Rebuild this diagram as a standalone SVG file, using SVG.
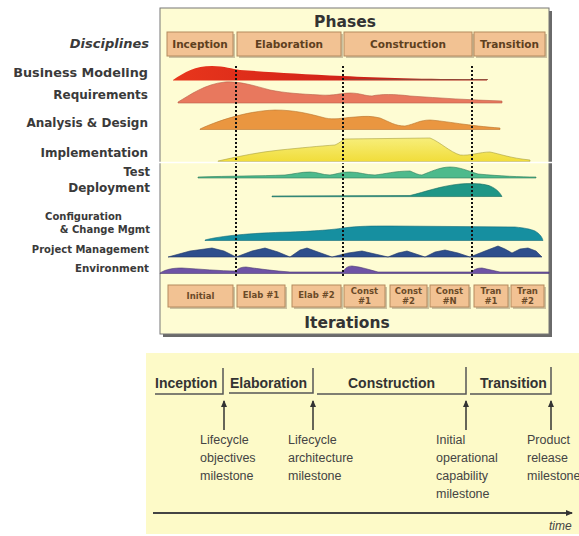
<svg xmlns="http://www.w3.org/2000/svg" width="579" height="536" viewBox="0 0 579 536">
<defs>
<style>
.lbl{font-family:"DejaVu Sans",Verdana,sans-serif;font-weight:bold;fill:#3a3a3a;text-anchor:end}
.ph{fill:#F2C293;stroke:#B48A5E;stroke-width:1}
.phs{fill:#9a8a70;opacity:0.5}
.pht{font-family:"DejaVu Sans",Verdana,sans-serif;font-weight:bold;font-size:10.5px;fill:#5e4020;text-anchor:middle}
.itt{font-family:"DejaVu Sans",Verdana,sans-serif;font-weight:bold;font-size:8.5px;fill:#6a4a28;text-anchor:middle}
.dot{stroke:#111;stroke-width:2;stroke-dasharray:2 2;fill:none}
.bl{font-family:"Liberation Sans",Arial,sans-serif;font-weight:bold;font-size:14px;fill:#333}
.ms{font-family:"Liberation Sans",Arial,sans-serif;font-size:12.5px;fill:#444}
.tl{stroke:#555;stroke-width:1.5;fill:none}
.ar{stroke:#333;stroke-width:1.5;fill:none;marker-end:url(#ah)}
</style>
<marker id="ah" markerWidth="8" markerHeight="8" refX="6" refY="4" orient="auto" markerUnits="userSpaceOnUse">
<path d="M0,1 L7,4 L0,7 Z" fill="#333"/>
</marker>
<linearGradient id="gBM" x1="0" y1="0" x2="1" y2="0">
<stop offset="0" stop-color="#E8361C"/><stop offset="0.5" stop-color="#D42418"/><stop offset="1" stop-color="#A8281E"/>
</linearGradient>
<linearGradient id="gIM" x1="0" y1="0" x2="0" y2="1">
<stop offset="0" stop-color="#F7EE7A"/><stop offset="1" stop-color="#F1DD3A"/>
</linearGradient>
</defs>

<!-- top panel -->
<g id="phasesPanel">
<rect x="163" y="11" width="389" height="326" fill="#6a6a6a"/>
<rect x="160" y="8" width="389" height="326" fill="#FEFCD3" stroke="#777" stroke-width="1"/>
<text x="345" y="27" font-family="DejaVu Sans,Verdana,sans-serif" font-weight="bold" font-size="15.5" fill="#333" text-anchor="middle">Phases</text>
<text x="347" y="328" font-family="DejaVu Sans,Verdana,sans-serif" font-weight="bold" font-size="15.5" fill="#333" text-anchor="middle">Iterations</text>
</g>

<g id="phase-inception"><rect class="phs" x="169" y="34" width="66" height="24"/><rect class="ph" x="167" y="32" width="66" height="24"/><text class="pht" x="200" y="48">Inception</text></g>
<g id="phase-elaboration"><rect class="phs" x="239" y="34" width="104" height="24"/><rect class="ph" x="237" y="32" width="104" height="24"/><text class="pht" x="289" y="48">Elaboration</text></g>
<g id="phase-construction"><rect class="phs" x="346" y="34" width="128" height="24"/><rect class="ph" x="344" y="32" width="128" height="24"/><text class="pht" x="408" y="48">Construction</text></g>
<g id="phase-transition"><rect class="phs" x="476" y="34" width="71" height="24"/><rect class="ph" x="474" y="32" width="71" height="24"/><text class="pht" x="509.5" y="48">Transition</text></g>

<!-- discipline labels -->
<g id="labels">
<text class="lbl" x="149" y="48" font-size="13" font-style="italic" fill="#222">Disciplines</text>
<text class="lbl" x="148" y="77" font-size="12.8">Business Modeling</text>
<text class="lbl" x="148" y="99" font-size="12">Requirements</text>
<text class="lbl" x="148" y="127" font-size="12">Analysis &amp; Design</text>
<text class="lbl" x="148" y="157" font-size="12">Implementation</text>
<text class="lbl" x="150" y="176" font-size="11.5">Test</text>
<text class="lbl" x="150" y="192" font-size="12">Deployment</text>
<text class="lbl" x="122" y="220" font-size="10">Configuration</text>
<text class="lbl" x="150" y="233" font-size="10">&amp; Change Mgmt</text>
<text class="lbl" x="149" y="253" font-size="10">Project Management</text>
<text class="lbl" x="149" y="272" font-size="10.3">Environment</text>
</g>

<!-- workflow humps -->
<g id="disc-business-modeling"><path d="M173,80 C185,72 195,66 212,66 C225,66 232,69 240,70 C270,72 300,74 343,76 C380,78 420,79 487,79.3 L487,80.5 L173,80.5 Z" fill="url(#gBM)"/><line x1="343" y1="79.5" x2="488" y2="79.5" stroke="#8a4a3a" stroke-width="0.8"/></g>
<g id="disc-requirements"><path d="M178,102 C190,95 205,84 225,82 C240,81 255,86 270,90 C285,93 300,94 320,95 C335,96 340,93 350,93 C360,93 365,96 372,96 C380,94 395,94 410,96 C440,98 470,100 502,101 L502,103 L178,103 Z" fill="#E8785E" stroke="#B8604a" stroke-width="0.6"/></g>
<g id="disc-analysis-design"><path d="M200,129 C215,122 245,111 275,110 C295,110 310,114 325,118 C335,120 340,118 355,117 C365,116 372,116 380,118 C390,122 395,126 405,126 C415,124 420,120 430,120 C445,121 470,126 500,128 L500,129.5 L200,129.5 Z" fill="#EA9640" stroke="#B8742e" stroke-width="0.6"/></g>
<g id="disc-implementation"><path d="M218,161 C240,156 260,152 280,150 C300,148 320,146 335,145 C340,143 342,140 345,139 L430,138 C440,142 450,152 460,155 C470,156 480,152 490,152 C500,154 510,158 530,160 L530,161.5 L218,161.5 Z" fill="url(#gIM)" stroke="#a8a040" stroke-width="0.6"/></g>
<g id="disc-test"><path d="M198,177 C230,176 260,176 285,175 C295,174 300,172 310,172 C318,172 322,175 330,175 C338,174 340,172 350,172 C360,172 365,175 375,175 C385,174 395,171 410,171 C415,173 418,175 422,175 C430,172 440,167 450,167 C460,167 468,171 478,174 C500,176 520,177 536,177 L536,178 L198,178 Z" fill="#4DBA8C" stroke="#2f7a5a" stroke-width="0.6"/></g>
<g id="disc-deployment"><path d="M272,196 L410,195.5 C425,192 440,186 460,184 C475,183 485,184 490,186 C497,189 500,193 502,196.5 L272,196.8 Z" fill="#1F9686" stroke="#156a5e" stroke-width="0.6"/></g>
<g id="disc-config"><path d="M205,240 C220,236 250,233 290,232 C320,231 338,229 343,228 C360,226 370,226 390,226 L515,227 C525,228 530,229 535,231 C540,234 542,237 543,240.5 L205,240.5 Z" fill="#168FA0" stroke="#106a78" stroke-width="0.6"/></g>
<g id="disc-project-mgmt"><path d="M168,257 L190,251 L212,248 L224,251 L236,257 L252,251 L265,248 L278,252 L290,257 L300,250 L307,248 L318,252 L332,257 L348,253 L362,251 L375,254 L388,257 L398,253 L407,251 L416,254 L425,257 L435,252 L445,250 L458,253 L470,257 L485,251 L498,246 L505,249 L512,253 L520,249 L528,248 L536,251 L542,257 Z" fill="#2E4E8C" stroke="#1e3466" stroke-width="0.6"/></g>
<g id="disc-environment"><path d="M160,273 C166,269 174,268 182,268 C200,269 220,271 236,271 C238,268 242,267 246,267 C260,269 275,271 290,272 L343,272 C345,268 348,266 352,266 C362,267 370,270 378,272 L472,272 C474,269 478,268 482,268 C488,269 494,271 500,272 L549,272 L549,273.5 L160,273.5 Z" fill="#6E52A5" stroke="#4a3a70" stroke-width="0.6"/></g>

<!-- milestone dotted lines -->
<g id="connectors-dotted">
<line class="dot" x1="236" y1="66" x2="236" y2="278"/>
<line class="dot" x1="343" y1="66" x2="343" y2="278"/>
<line class="dot" x1="472" y1="66" x2="472" y2="278"/>
</g>

<!-- artifact white line -->
<line x1="157" y1="162.5" x2="560" y2="162.5" stroke="#ffffff" stroke-width="1.5"/>

<!-- iterations -->
<g id="it-initial"><rect class="phs" x="170" y="287" width="65" height="22"/><rect class="ph" x="168" y="285" width="65" height="22"/><text class="itt" x="200.5" y="299">Initial</text></g>
<g id="it-elab1"><rect class="phs" x="239" y="287" width="48" height="22"/><rect class="ph" x="237" y="285" width="48" height="22"/><text class="itt" x="261" y="298">Elab #1</text></g>
<g id="it-elab2"><rect class="phs" x="294" y="287" width="49" height="22"/><rect class="ph" x="292" y="285" width="49" height="22"/><text class="itt" x="316.5" y="298">Elab #2</text></g>
<g id="it-const1"><rect class="phs" x="346" y="287" width="41" height="22"/><rect class="ph" x="344" y="285" width="41" height="22"/><text class="itt" x="364.5" y="294">Const</text><text class="itt" x="364.5" y="304">#1</text></g>
<g id="it-const2"><rect class="phs" x="392" y="287" width="37" height="22"/><rect class="ph" x="390" y="285" width="37" height="22"/><text class="itt" x="408.5" y="294">Const</text><text class="itt" x="408.5" y="304">#2</text></g>
<g id="it-constN"><rect class="phs" x="432" y="287" width="39" height="22"/><rect class="ph" x="430" y="285" width="39" height="22"/><text class="itt" x="449.5" y="294">Const</text><text class="itt" x="449.5" y="304">#N</text></g>
<g id="it-tran1"><rect class="phs" x="476" y="287" width="34" height="22"/><rect class="ph" x="474" y="285" width="34" height="22"/><text class="itt" x="491" y="294">Tran</text><text class="itt" x="491" y="304">#1</text></g>
<g id="it-tran2"><rect class="phs" x="513" y="287" width="33" height="22"/><rect class="ph" x="511" y="285" width="33" height="22"/><text class="itt" x="527.5" y="294">Tran</text><text class="itt" x="527.5" y="304">#2</text></g>

<!-- bottom panel -->
<rect x="146" y="353" width="433" height="181" fill="#FDFAC8"/>

<g id="b-inception"><text class="bl" x="155" y="388">Inception</text><path class="tl" d="M155,394 L223,394 L223,368"/></g>
<g id="b-elaboration"><text class="bl" x="230" y="388">Elaboration</text><path class="tl" d="M229,393 L313,393 L313,368"/></g>
<g id="b-construction"><text class="bl" x="348" y="388">Construction</text><path class="tl" d="M317,394 L466,394 L466,367"/></g>
<g id="b-transition"><text class="bl" x="480" y="388">Transition</text><path class="tl" d="M470,394 L551,394 L551,367"/></g>

<g id="connectors">
<line class="ar" x1="224" y1="430" x2="224" y2="401"/>
<line class="ar" x1="313" y1="430" x2="313" y2="401"/>
<line class="ar" x1="466" y1="430" x2="466" y2="401"/>
<line class="ar" x1="551" y1="430" x2="551" y2="401"/>
<line x1="153" y1="513" x2="572" y2="513" stroke="#444" stroke-width="2" marker-end="url(#ah)"/>
</g>

<g id="m-lco"><text class="ms" x="200" y="444">Lifecycle</text><text class="ms" x="200" y="462">objectives</text><text class="ms" x="200" y="480">milestone</text></g>
<g id="m-lca"><text class="ms" x="288" y="444">Lifecycle</text><text class="ms" x="288" y="462">architecture</text><text class="ms" x="288" y="480">milestone</text></g>
<g id="m-ioc"><text class="ms" x="436" y="444">Initial</text><text class="ms" x="436" y="462">operational</text><text class="ms" x="436" y="480">capability</text><text class="ms" x="436" y="498">milestone</text></g>
<g id="m-pr"><text class="ms" x="527" y="444">Product</text><text class="ms" x="527" y="462">release</text><text class="ms" x="527" y="480">milestone</text></g>
<text x="549" y="530" font-family="Liberation Sans,Arial,sans-serif" font-style="italic" font-size="12" fill="#444">time</text>
</svg>
